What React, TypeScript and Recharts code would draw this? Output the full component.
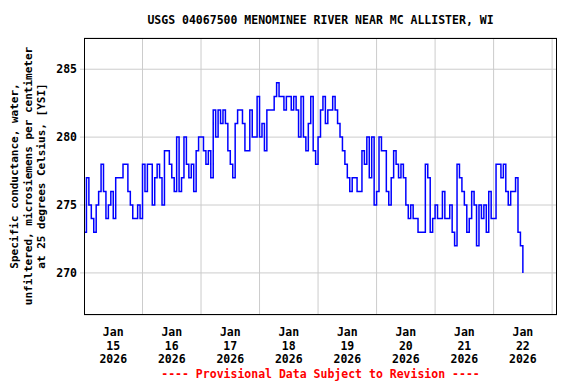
import { CartesianGrid, Line, LineChart, ReferenceLine, XAxis, YAxis } from "recharts"

// hourly readings, specific conductance (uS/cm @ 25C), starting Jan 15 00:00
const jan15 = [273, 277, 275, 274, 273, 275, 276, 278, 276, 274, 275, 276, 274, 277, 277, 277, 278, 278, 276, 275, 274, 274, 275, 274]
const jan16 = [278, 276, 278, 278, 275, 277, 278, 277, 275, 279, 279, 278, 277, 276, 280, 276, 277, 280, 278, 277, 278, 276, 279, 280]
const jan17 = [280, 279, 278, 279, 277, 282, 280, 282, 281, 282, 281, 279, 278, 277, 281, 282, 282, 281, 279, 279, 282, 280, 280, 283]
const jan18 = [280, 281, 279, 282, 282, 282, 283, 284, 283, 283, 282, 283, 283, 282, 283, 282, 280, 283, 280, 279, 281, 283, 279, 278]
const jan19 = [280, 282, 283, 281, 282, 282, 283, 282, 281, 280, 279, 278, 277, 276, 277, 277, 276, 276, 279, 278, 280, 277, 280, 275]
const jan20 = [276, 280, 279, 279, 276, 275, 277, 279, 278, 277, 278, 277, 275, 274, 275, 274, 274, 273, 273, 273, 278, 277, 273, 274]
const jan21 = [275, 274, 274, 276, 274, 274, 275, 273, 272, 278, 277, 276, 275, 273, 274, 276, 275, 272, 275, 274, 275, 273, 276, 274]
const jan22 = [274, 278, 278, 277, 278, 276, 275, 276, 276, 277, 273, 272, 270]

const days = [jan15, jan16, jan17, jan18, jan19, jan20, jan21, jan22]
const dayLabels = ["15", "16", "17", "18", "19", "20", "21", "22"]
const yTicks = [270, 275, 280, 285]

const data = days.flatMap((vals, d) => vals.map((v, i) => ({ hour: d * 24 + i, value: v })))
const noonTicks = dayLabels.map((_, i) => i * 24 + 12)
const midnights = dayLabels.map((_, i) => (i + 1) * 24)

const mono = "'DejaVu Sans Mono', monospace"

function DateTick({ x, y, payload }: any) {
  const idx = Math.round((payload.value - 12) / 24)
  return (
    <text x={x} y={y} textAnchor="middle" fontFamily={mono} fontWeight="bold" fontSize={11.5} fill="#000">
      <tspan x={x} dy={19}>Jan</tspan>
      <tspan x={x} dy={13.5}>{dayLabels[idx]}</tspan>
      <tspan x={x} dy={13.5}>2026</tspan>
    </text>
  )
}

export default function App() {
  return (
    <div style={{ position: "absolute", left: 0, top: 0, width: 576, height: 384, background: "#fff" }}>
      <div style={{ position: "absolute", left: 84, top: 13, width: 473, textAlign: "center", fontFamily: mono, fontWeight: "bold", fontSize: 11.5, whiteSpace: "nowrap" }}>
        USGS 04067500 MENOMINEE RIVER NEAR MC ALLISTER, WI
      </div>
      <LineChart width={576} height={384} data={data} margin={{ top: 38, right: 19, bottom: 39, left: 0 }}>
        <CartesianGrid vertical={false} stroke="#cccccc" />
        {midnights.map((h) => (
          <ReferenceLine key={h} x={h} stroke="#cccccc" />
        ))}
        <XAxis
          dataKey="hour"
          type="number"
          domain={[0, 194]}
          ticks={noonTicks}
          tick={<DateTick />}
          tickLine={false}
          axisLine={false}
          tickSize={0}
          height={30}
          interval={0}
        />
        <YAxis
          type="number"
          domain={[266.9, 287.3]}
          ticks={yTicks}
          width={84}
          allowDataOverflow
          axisLine={false}
          tickLine={{ stroke: "#cccccc" }}
          tickSize={4}
          tickMargin={3}
          tick={{ fontFamily: mono, fontWeight: "bold", fontSize: 11.5, fill: "#000" }}
        />
        <Line
          type="stepAfter"
          dataKey="value"
          stroke="#0000ff"
          strokeWidth={1.5}
          dot={false}
          isAnimationActive={false}
        />
      </LineChart>
      <div style={{ position: "absolute", left: 84, top: 38, width: 473, height: 277, border: "1px solid #000", boxSizing: "border-box", pointerEvents: "none" }} />
      <div
        style={{
          position: "absolute",
          left: 28.5 - 150,
          top: 176 - 21,
          width: 300,
          height: 42,
          transform: "rotate(-90deg)",
          textAlign: "center",
          fontFamily: mono,
          fontWeight: "bold",
          fontSize: 11,
          lineHeight: "13.5px",
          whiteSpace: "nowrap",
        }}
      >
        Specific conductance, water,<br />
        unfiltered, microsiemens per centimeter<br />
        at 25 degrees Celsius, [YSI]
      </div>
      <div style={{ position: "absolute", left: 84, top: 367, width: 473, textAlign: "center", fontFamily: mono, fontWeight: "bold", fontSize: 11.5, color: "#ff0000", whiteSpace: "nowrap" }}>
        ---- Provisional Data Subject to Revision ----
      </div>
    </div>
  )
}
